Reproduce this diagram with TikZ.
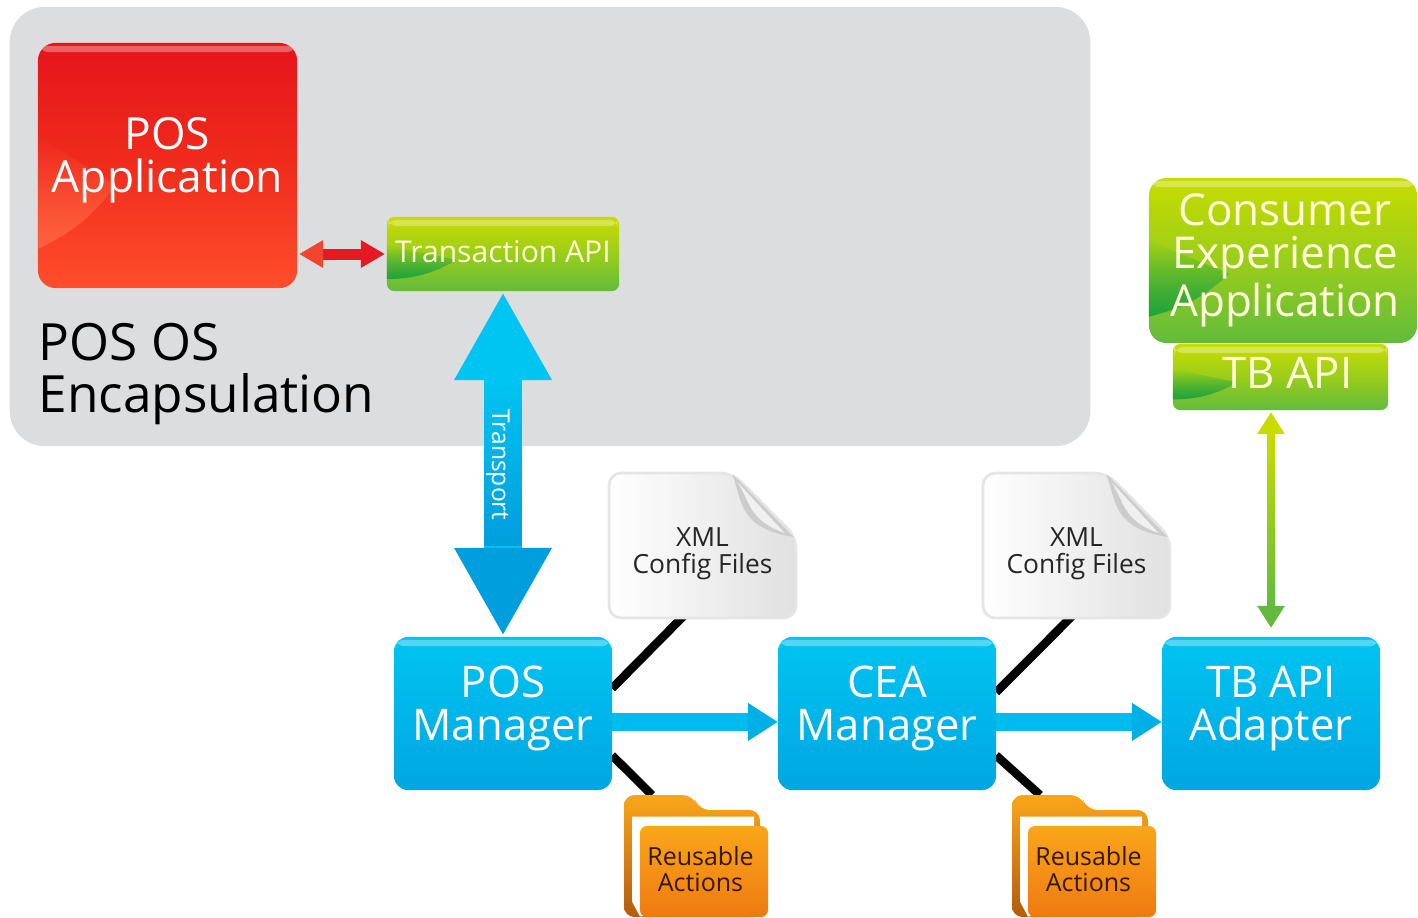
\documentclass[tikz,border=0pt]{standalone}
\usepackage{fontspec}
\setmainfont{Open Sans}
\usetikzlibrary{positioning,calc,arrows.meta,backgrounds,fadings}

\definecolor{panelgray}{HTML}{DCDDDF}
\definecolor{bluetop}{HTML}{00C4F2}
\definecolor{bluebot}{HTML}{00A6E0}
\definecolor{bluehead}{HTML}{009EDC}
\definecolor{greentop}{HTML}{C8DC00}
\definecolor{greenbot}{HTML}{62BB3C}
\definecolor{greendark}{HTML}{1FA33C}
\definecolor{redtop}{HTML}{E5141C}
\definecolor{redmid}{HTML}{F02C1C}
\definecolor{redbot}{HTML}{FF4E2C}
\definecolor{redglow}{HTML}{FF6A45}
\definecolor{arrowred}{HTML}{E31A24}
\definecolor{arrowlight}{HTML}{F0452E}
\definecolor{foldertop}{HTML}{FAA61A}
\definecolor{folderbot}{HTML}{EE7A12}

\tikzset{
  gloss/.style 2 args={path picture={
    \coordinate (sw) at (path picture bounding box.south west);
    \coordinate (se) at (path picture bounding box.south east);
    \coordinate (nw) at (path picture bounding box.north west);
    \coordinate (ne) at (path picture bounding box.north east);
    \coordinate (lowl) at ($(sw)!.16!(nw)$);
    \coordinate (highl) at ($(sw)!.62!(nw)$);
    \coordinate (midl) at ($(sw)!.42!(nw)$);
    \coordinate (tipl) at ($(midl)!.3!(midl -| se)$);
    \fill[sharp corners,#1,opacity=#2,path fading=north] (lowl) to[bend right=14] (tipl) -- (highl) -- cycle;
    \fill[rounded corners=2.5pt,white,opacity=.32] ([xshift=.4pt,yshift=-.8pt]nw) rectangle ([xshift=-.4pt,yshift=-2.6pt]ne);}},
  box/.style={rectangle,outer sep=0pt,inner sep=0pt,align=center,text=white,rounded corners=#1},
  bluebox/.style={box=4pt,minimum width=2.18cm,minimum height=1.53cm,top color=bluetop,bottom color=bluebot,
    gloss={bluetop}{0},text depth=6pt,font=\fontsize{12.4}{12.2}\selectfont},
  greenbox/.style={box=#1,top color=greentop,bottom color=greenbot,middle color=greentop!55!greenbot,
    gloss={greendark}{1},text=white!85!yellow},
  redbox/.style={box=5pt,top color=redtop,bottom color=redbot,middle color=redmid,gloss={redglow}{.8}},
  linkline/.style={line width=.085cm,black},
  flowarrow/.style={line width=.18cm,bluetop!70!bluebot,
    -{Triangle[width=.36cm,length=.30cm,color=bluebot!70!bluetop]}},
  filetext/.style={inner sep=0pt,outer sep=0pt,align=center,text=black!85,minimum width=1.87cm,minimum height=1.40cm,
    font=\fontsize{7.5}{7.7}\selectfont},
  foldertext/.style={box=2pt,minimum width=1.28cm,minimum height=.91cm,top color=foldertop,bottom color=folderbot,
    text=black!80!orange,text depth=1.2pt,font=\fontsize{7.1}{7.4}\selectfont},
}

\begin{document}
\begin{tikzpicture}[x=.01cm,y=-.01cm]
    \useasboundingbox (0,0) rectangle (1418,917);

    \node[rectangle,fill=panelgray,rounded corners=10pt,minimum width=10.8cm,minimum height=4.39cm] (oslayer) at (550,226.5) {};
    \node[redbox,minimum width=2.59cm,minimum height=2.45cm,text depth=6pt,font=\fontsize{12.6}{12.2}\selectfont] (posapp) at (167.5,165.5) {POS\\Application};
    \node[greenbox=2pt,minimum width=2.32cm,minimum height=.74cm,text depth=1.7pt,font=\fontsize{8.55}{9}\selectfont] (txapi) at (503,254) {Transaction API};
    \node[inner sep=0pt,align=left,anchor=west,font=\fontsize{14.6}{14.8}\selectfont] (oslabel) at (38,374) {POS OS\\Encapsulation};

    \node[greenbox=5pt,minimum width=2.68cm,minimum height=1.65cm,font=\fontsize{12.5}{12.2}\selectfont] (ceapp) at (1283,260.5) {\hspace*{.04cm}Consumer\\\hspace*{.04cm}Experience\\\hspace*{.04cm}Application};
    \node[greenbox=2pt,minimum width=2.15cm,minimum height=.66cm,text depth=2.3pt,font=\fontsize{12.4}{12.2}\selectfont] (tbapi) at (1280.5,377) {\hspace*{.14cm}TB API};

    \node[bluebox] (posmgr) at (503,713.5) {POS\\Manager};
    \node[bluebox] (ceamgr) at (887,713.5) {CEA\\Manager};
    \node[bluebox] (tbadapt) at (1271,713.5) {TB API\\Adapter};

    % config files
    \foreach \fname/\fx in {xmlA/702.5,xmlB/1076.5}{
      \begin{scope}[shift={(\fx,550)}]
        \shade[left color=white,right color=black!12,draw=black!10,line width=.8pt,rounded corners=3.5pt]
          (-93.5,-77) -- (30,-77) -- (93.5,-13) -- (93.5,68) -- (-93.5,68) -- cycle;
        \fill[black!20] (30,-76) .. controls (40,-45) and (38,-22) .. (91,-13) -- cycle;
        \fill[black!6] (35,-68) .. controls (48,-48) and (46,-30) .. (82,-17) -- cycle;
        \node[filetext] (\fname) at (0,4) {XML\\Config Files};
      \end{scope}
    }

    % folders
    \foreach \dname/\dx in {dirA/704,dirB/1092}{
      \begin{scope}[shift={(\dx,871.5)}]
        \shade[top color=foldertop,bottom color=black!25!folderbot,rounded corners=3pt]
          (-80,-76.5) -- (-11,-76.5) -- (-5,-61.5) -- (56,-61.5) -- (56,45.5) -- (-80,45.5) -- cycle;
        \fill[white] (-72,-55) -- (50,-55) -- (50,30) -- (-64,45) -- (-72,30) -- cycle;
        \node[foldertext] (\dname) at (0,0) {Reusable\hspace*{.07cm}\\Actions\hspace*{.07cm}};
        \coordinate (\dname tab) at (-52,-76.5);
      \end{scope}
    }

    \begin{scope}[on background layer]
      \draw[linkline,shorten <=-.12cm] (xmlA.249) -- (posmgr.13);
      \draw[linkline] (posmgr.-21) -- (dirAtab);
      \draw[linkline,shorten <=-.12cm] (xmlB.260) -- (ceamgr.11);
      \draw[linkline] (ceamgr.-21) -- (dirBtab);
    \end{scope}

    \draw[flowarrow] ([yshift=-2.4pt]posmgr.east) -- ([yshift=-2.4pt]ceamgr.west);
    \draw[flowarrow] ([yshift=-2.4pt]ceamgr.east) -- ([yshift=-2.4pt]tbadapt.west);

    % transport
    \draw[line width=.37cm,bluetop,shorten <=.01cm,shorten >=.01cm,
      {Triangle[width=.91cm,length=.88cm,color=bluetop]}-{Triangle[width=.91cm,length=.88cm,color=bluehead]}] (txapi) -- (posmgr);
    \shade[top color=bluetop,bottom color=bluehead] ($(txapi.south)+(-18.5,89)$) rectangle ($(posmgr.north)+(18.5,-91)$);
    \node[rotate=-90,text=white,inner sep=0pt,font=\fontsize{7}{9}\selectfont] (transportlbl) at (498,465) {Transport};

    % red and green links
    \draw[line width=.11cm,arrowred,shorten <=.02cm,shorten >=.02cm,
      {Triangle[width=.26cm,length=.24cm,color=arrowlight]}-{Triangle[width=.26cm,length=.24cm,color=arrowred]}] (txapi.west -| posapp.east) -- (txapi.west);
    \draw[line width=.08cm,greentop,shorten <=.02cm,shorten >=.09cm,
      {Triangle[width=.26cm,length=.22cm,color=greentop]}-{Triangle[width=.26cm,length=.22cm,color=greenbot]}] (tbapi.south -| tbadapt.north) -- (tbadapt.north);
    \shade[top color=greentop,bottom color=greenbot] ($(tbapi.south -| tbadapt.north)+(-4,23)$) rectangle ($(tbadapt.north)+(4,-30)$);
\end{tikzpicture}
\end{document}
